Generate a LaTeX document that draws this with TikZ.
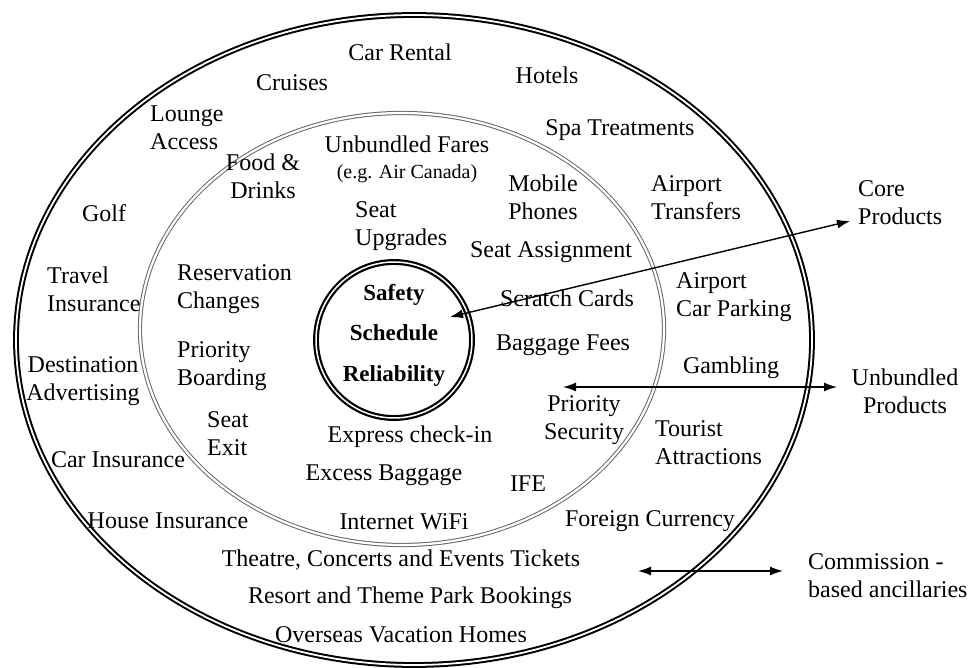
\documentclass[tikz,border=0pt]{standalone}
\usepackage{fontspec}
\setmainfont{Liberation Serif}
\usetikzlibrary{arrows.meta}
\begin{document}
\begin{tikzpicture}[x=1pt,y=-1pt,
  lbl/.style={inner sep=0pt,font=\fontsize{24}{28}\selectfont},
  lblc/.style={lbl,align=center},
  lbll/.style={lbl,align=left,anchor=west},
  core/.style={lbl,font=\fontsize{23}{28}\selectfont\bfseries},
  ring/.style={draw=black,line width=2pt,double=white,double distance=1.8pt},
  midring/.style={draw=black!60,line width=1pt,double=white,double distance=2.2pt},
  conn/.style={{Latex[length=13pt,width=9pt]}-{Latex[length=13pt,width=9pt]},line width=1.4pt}]
\useasboundingbox (0,0) rectangle (970,668);
% rings
\draw[ring] (414,340) ellipse [x radius=398, y radius=325];
\draw[midring] (402,329) ellipse [x radius=262, y radius=216];
\draw[ring,line width=2.2pt,double distance=1.5pt] (394,340) circle [radius=78];
% centre
\node[core] (safety) at (394,295) {Safety};
\node[core] (schedule) at (394,333) {Schedule};
\node[core] (reliab) at (394,376) {Reliability};
% middle ring items
\node[lblc] (fares) at (407,159) {Unbundled Fares\\[-2pt]{\fontsize{20}{24}\selectfont (e.g. Air Canada)}};
\node[lblc] (food) at (263,176) {Food \&\\Drinks};
\node[lblc] (mobile) at (543,197) {Mobile\\Phones};
\node[lbll] (upgr) at (355,226) {Seat\\Upgrades};
\node[lbl] (assign) at (551,252) {Seat Assignment};
\node[lbll] (resv) at (177,289) {Reservation\\Changes};
\node[lbl] (scratch) at (567,298) {Scratch Cards};
\node[lbl] (bagfee) at (563,345) {Baggage Fees};
\node[lbll] (prboard) at (177,366) {Priority\\Boarding};
\node[lblc] (prsec) at (584,420) {Priority\\Security};
\node[lbll] (seatexit) at (207,434) {Seat\\Exit};
\node[lbl] (express) at (410,437) {Express check-in};
\node[lbl] (excess) at (384,475) {Excess Baggage};
\node[lbl] (ife) at (528,484) {IFE};
\node[lbl] (wifi) at (404,522) {Internet WiFi};
% outer ring items
\node[lbl] (car) at (400,52) {Car Rental};
\node[lbl] (cruises) at (292,83) {Cruises};
\node[lbl] (hotels) at (547,75) {Hotels};
\node[lbll] (lounge) at (150,128) {Lounge\\Access};
\node[lbl] (spa) at (620,130) {Spa Treatments};
\node[lbll] (transfers) at (651,198) {Airport\\Transfers};
\node[lbl] (golf) at (104,213) {Golf};
\node[lbll] (travel) at (47,289) {Travel\\Insurance};
\node[lbll] (parking) at (676,297) {Airport\\Car Parking};
\node[lbl] (gambling) at (731,368) {Gambling};
\node[lblc] (dest) at (83,381) {Destination\\Advertising};
\node[lbll] (tourist) at (655,443) {Tourist\\Attractions};
\node[lbl] (carins) at (118,460) {Car Insurance};
\node[lbl] (house) at (168,521) {House Insurance};
\node[lbl] (foreign) at (650,521) {Foreign Currency};
\node[lbl] (theatre) at (401,560) {Theatre, Concerts and Events Tickets};
\node[lbl] (resort) at (410,598) {Resort and Theme Park Bookings};
\node[lbl] (overseas) at (401,635) {Overseas Vacation Homes};
% legend
\node[lbll] (corep) at (858,203) {Core\\Products};
\node[lblc] (unbp) at (905,391) {Unbundled\\Products};
\node[lbll] (comm) at (808,576) {Commission -\\based ancillaries};
% connectors
\coordinate (coreA) at (450,317);
\coordinate (coreB) at (850,221);
\coordinate (unbA) at (563,387);
\coordinate (unbB) at (837,387);
\coordinate (comA) at (638,571);
\coordinate (comB) at (783,571);
\draw[conn] (coreA) -- (coreB);
\draw[conn] (unbA) -- (unbB);
\draw[conn] (comA) -- (comB);
\end{tikzpicture}
\end{document}
